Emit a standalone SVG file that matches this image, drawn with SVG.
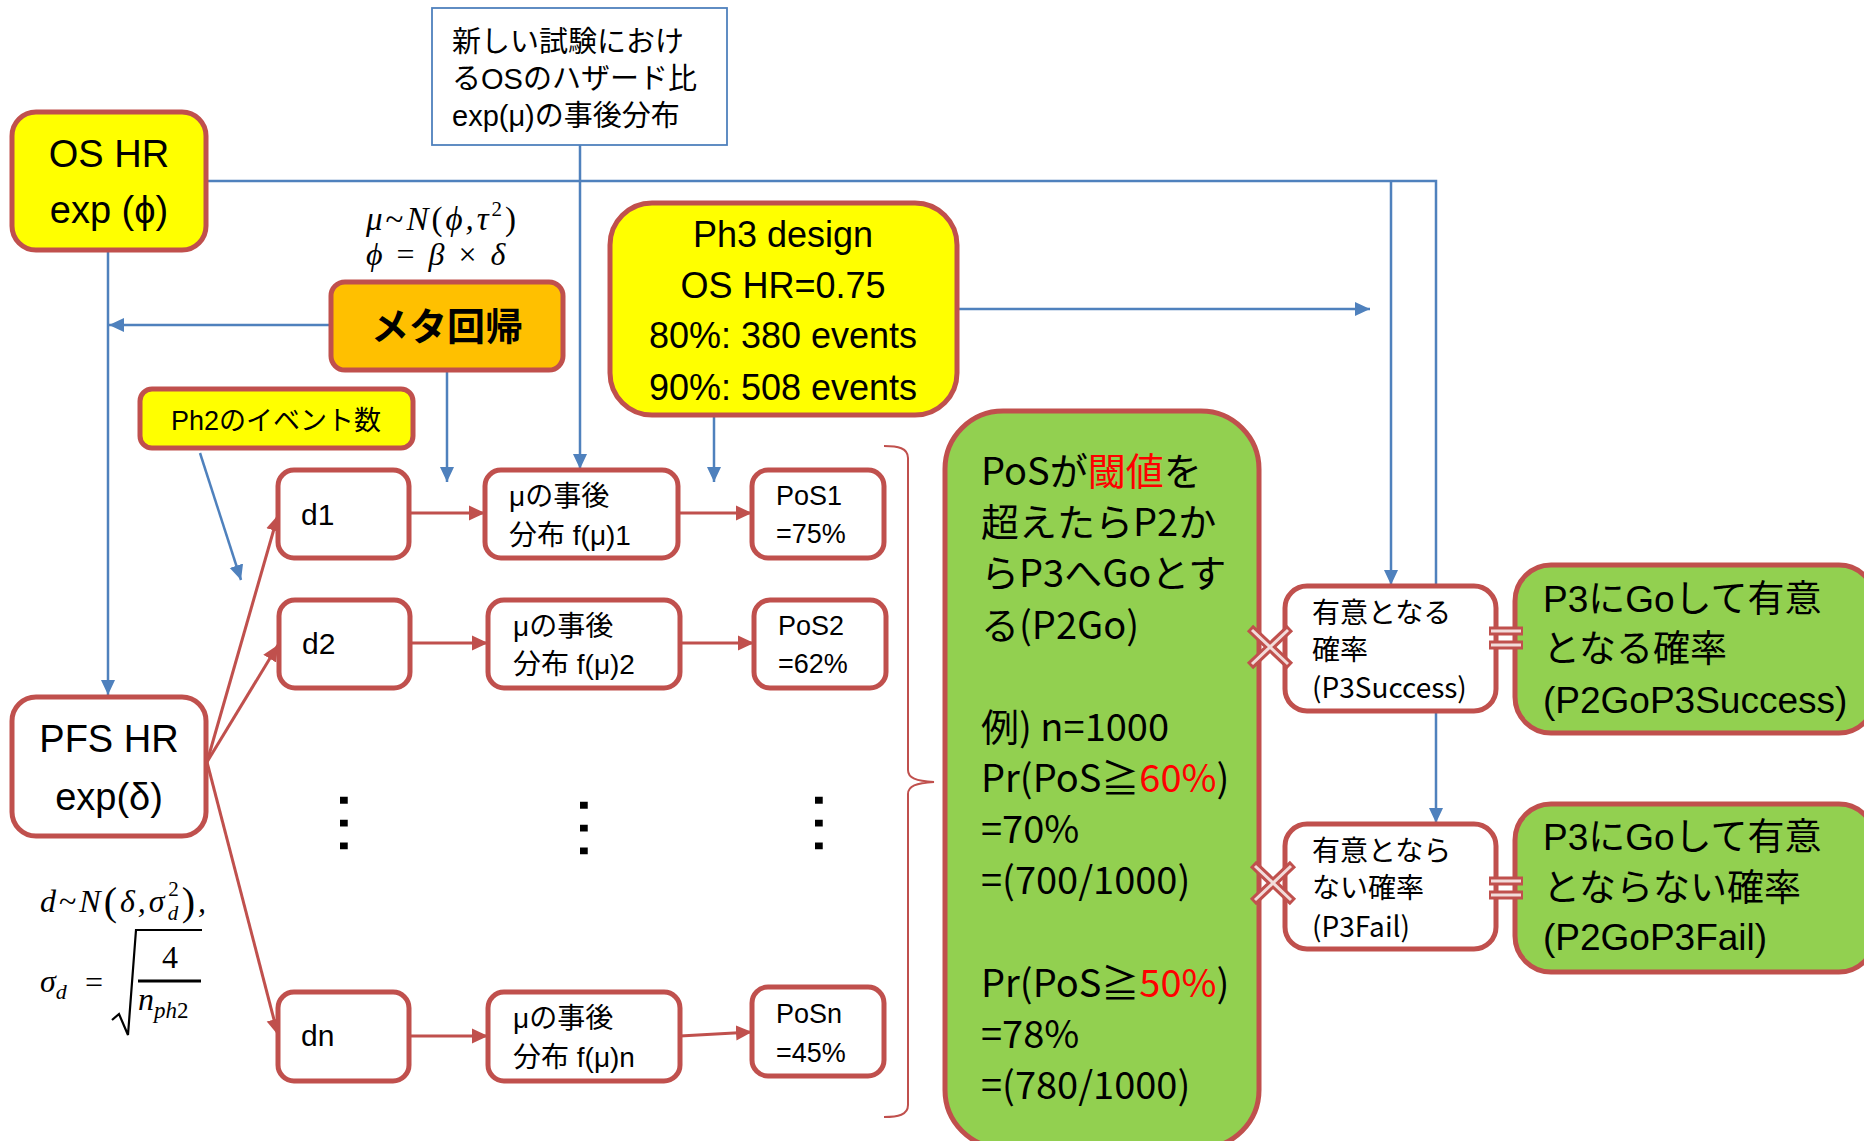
<svg xmlns="http://www.w3.org/2000/svg" width="1864" height="1141" viewBox="0 0 1864 1141">
<defs>
<style>
.bx{stroke:#C0504D;stroke-width:5}
.y{fill:#FFFF00}.o{fill:#FFC000}.g{fill:#92D050}.w{fill:#FFFFFF}
.t{font-family:"Liberation Sans","Noto Sans CJK JP",sans-serif;fill:#000}
.m{font-family:"Noto Sans CJK JP",sans-serif;fill:#000}
.math{font-family:"Liberation Serif",serif;font-style:italic;fill:#000}
.up{font-family:"Liberation Serif",serif;font-style:normal;fill:#000}
.blue{stroke:#4F81BD;stroke-width:2.5;fill:none}
.red{stroke:#C0504D;stroke-width:3;fill:none}
.rd{fill:#FF0000}
.jr{stroke:#C0504D;stroke-width:9;fill:none}
.jl{stroke:#F2DCDB;stroke-width:3;fill:none}
</style>
<marker id="ab" markerUnits="userSpaceOnUse" markerWidth="16" markerHeight="16" viewBox="0 0 16 16" refX="15" refY="8" orient="auto"><path d="M0,1 L15,8 L0,15 z" fill="#4F81BD"/></marker>
<marker id="ar" markerUnits="userSpaceOnUse" markerWidth="17" markerHeight="17" viewBox="0 0 17 17" refX="16" refY="8.5" orient="auto"><path d="M0,1 L16,8.5 L0,16 z" fill="#C0504D"/></marker>
</defs>
<rect width="1864" height="1141" fill="#FFFFFF"/>

<g id="connectors">
<path class="blue" d="M207,181 H1436 V823" marker-end="url(#ab)"/>
<path class="blue" d="M1391,181 V585" marker-end="url(#ab)"/>
<path class="blue" d="M580,145 V469" marker-end="url(#ab)"/>
<path class="blue" d="M108,250 V695" marker-end="url(#ab)"/>
<path class="blue" d="M331,325 H109" marker-end="url(#ab)"/>
<path class="blue" d="M447,370 V482" marker-end="url(#ab)"/>
<path class="blue" d="M714,415 V482" marker-end="url(#ab)"/>
<path class="blue" d="M957,309 H1370" marker-end="url(#ab)"/>
<path class="blue" d="M200,453 L241,580" marker-end="url(#ab)"/>
<path class="red" d="M207,762 L278,515" marker-end="url(#ar)"/>
<path class="red" d="M207,762 L278,645" marker-end="url(#ar)"/>
<path class="red" d="M207,762 L278,1035" marker-end="url(#ar)"/>
<path class="red" d="M409,513 H485" marker-end="url(#ar)"/>
<path class="red" d="M678,513 H752" marker-end="url(#ar)"/>
<path class="red" d="M410,643 H488" marker-end="url(#ar)"/>
<path class="red" d="M680,643 H754" marker-end="url(#ar)"/>
<path class="red" d="M409,1036 H488" marker-end="url(#ar)"/>
<path class="red" d="M680,1036 L752,1032" marker-end="url(#ar)"/>
<path d="M884,446 C898,446 908,448 908,458 L908,770 C908,778 916,781 934,782 C916,783 908,786 908,794 L908,1105 C908,1115 898,1117 884,1117" stroke="#C0504D" stroke-width="2" fill="none"/>
</g>

<g id="os-hr"><rect class="bx y" x="12" y="112" width="194" height="138" rx="24"/>
<text class="t" x="109" y="167" font-size="38" text-anchor="middle">OS HR</text>
<text class="t" x="109" y="223" font-size="38" text-anchor="middle">exp (ϕ)</text></g>

<g id="posterior-note"><rect x="432" y="8" width="295" height="137" fill="#FFFFFF" stroke="#4F81BD" stroke-width="1.8"/>
<text class="t" font-size="29"><tspan x="452" y="52">新しい試験におけ</tspan><tspan x="452" y="89">るOSのハザード比</tspan><tspan x="452" y="126">exp(μ)の事後分布</tspan></text></g>

<g id="formula-mu"><text class="math" font-size="33" x="366" y="230" letter-spacing="3">μ<tspan font-style="normal">~</tspan>N<tspan font-style="normal">(</tspan>ϕ,τ<tspan font-size="21" font-style="normal" dy="-14">2</tspan><tspan font-style="normal" dy="14">)</tspan></text>
<text class="math" font-size="32" x="366" y="265" letter-spacing="3" xml:space="preserve">ϕ <tspan font-style="normal">=</tspan> β <tspan font-style="normal">×</tspan> δ</text></g>

<g id="meta"><rect class="bx o" x="331" y="282" width="232" height="88" rx="14"/>
<text class="m" x="447" y="340" font-size="38" font-weight="bold" text-anchor="middle">メタ回帰</text></g>

<g id="ph3"><rect class="bx y" x="610" y="203" width="347" height="212" rx="42"/>
<text class="t" font-size="36" text-anchor="middle"><tspan x="783" y="247">Ph3 design</tspan><tspan x="783" y="298">OS HR=0.75</tspan><tspan x="783" y="348">80%: 380 events</tspan><tspan x="783" y="400">90%: 508 events</tspan></text></g>

<g id="ph2"><rect class="bx y" x="140" y="389" width="273" height="59" rx="12"/>
<text class="t" x="276" y="430" font-size="27" text-anchor="middle">Ph2のイベント数</text></g>

<g id="pfs-hr"><rect class="bx w" x="12" y="697" width="194" height="139" rx="24"/>
<text class="t" x="109" y="752" font-size="38" text-anchor="middle">PFS HR</text>
<text class="t" x="109" y="810" font-size="38" text-anchor="middle">exp(δ)</text></g>

<g id="formula-d"><text class="math" font-size="32" x="40" y="912" letter-spacing="3">d<tspan font-style="normal">~</tspan>N<tspan font-style="normal" font-size="40" dy="3">(</tspan><tspan dy="-3">δ,σ</tspan><tspan font-size="21" dy="8">d</tspan><tspan font-size="21" font-style="normal" dx="-13" dy="-24">2</tspan><tspan font-style="normal" font-size="40" dy="19">)</tspan><tspan dy="-3">,</tspan></text>
<text class="math" font-size="32" x="40" y="992">σ<tspan font-size="22" dy="7">d</tspan></text>
<text class="up" font-size="32" x="85" y="993">=</text>
<path d="M112,1020 L119,1014 L128,1035 L136,930 L202,930" stroke="#000" stroke-width="2.2" fill="none"/>
<line x1="138" y1="981" x2="201" y2="981" stroke="#000" stroke-width="3"/>
<text class="up" font-size="32" x="170" y="968" text-anchor="middle">4</text>
<text class="math" font-size="32" x="138" y="1010">n<tspan font-size="23" dy="8">ph</tspan><tspan font-size="23" font-style="normal">2</tspan></text></g>

<g id="d1"><rect class="bx w" x="278" y="470" width="131" height="88" rx="16"/><text class="t" x="301" y="525" font-size="30">d1</text></g>
<g id="d2"><rect class="bx w" x="279" y="600" width="131" height="88" rx="16"/><text class="t" x="302" y="654" font-size="30">d2</text></g>
<g id="dn"><rect class="bx w" x="278" y="992" width="131" height="89" rx="16"/><text class="t" x="301" y="1046" font-size="30">dn</text></g>

<g id="mu1"><rect class="bx w" x="485" y="470" width="193" height="88" rx="16"/><text class="t" font-size="28"><tspan x="509" y="506">μの事後</tspan><tspan x="509" y="545">分布 f(μ)1</tspan></text></g>
<g id="mu2"><rect class="bx w" x="488" y="600" width="192" height="88" rx="16"/><text class="t" font-size="28"><tspan x="513" y="636">μの事後</tspan><tspan x="513" y="674">分布 f(μ)2</tspan></text></g>
<g id="mun"><rect class="bx w" x="488" y="992" width="192" height="89" rx="16"/><text class="t" font-size="28"><tspan x="513" y="1028">μの事後</tspan><tspan x="513" y="1067">分布 f(μ)n</tspan></text></g>

<g id="pos1"><rect class="bx w" x="752" y="470" width="132" height="88" rx="16"/><text class="t" font-size="27"><tspan x="776" y="505">PoS1</tspan><tspan x="776" y="543">=75%</tspan></text></g>
<g id="pos2"><rect class="bx w" x="754" y="600" width="132" height="88" rx="16"/><text class="t" font-size="27"><tspan x="778" y="635">PoS2</tspan><tspan x="778" y="673">=62%</tspan></text></g>
<g id="posn"><rect class="bx w" x="752" y="987" width="132" height="89" rx="16"/><text class="t" font-size="27"><tspan x="776" y="1023">PoSn</tspan><tspan x="776" y="1062">=45%</tspan></text></g>

<g id="ellipses" class="t" font-size="72" text-anchor="middle">
<text x="344" y="827" transform="rotate(90 344 823)">…</text>
<text x="584" y="832" transform="rotate(90 584 828)">…</text>
<text x="819" y="827" transform="rotate(90 819 823)">…</text>
</g>

<g id="p2go"><rect class="bx g" x="945" y="411" width="314" height="737" rx="58"/>
<text class="m" font-size="38">
<tspan x="981" y="485">PoSが<tspan class="rd">閾値</tspan>を</tspan>
<tspan x="981" y="536">超えたらP2か</tspan>
<tspan x="981" y="587">らP3へGoとす</tspan>
<tspan x="981" y="639">る(P2Go)</tspan>
<tspan x="981" y="741">例) n=1000</tspan>
<tspan x="981" y="792">Pr(PoS≧<tspan class="rd">60%</tspan>)</tspan>
<tspan x="981" y="843">=70%</tspan>
<tspan x="981" y="894">=(700/1000)</tspan>
<tspan x="981" y="997">Pr(PoS≧<tspan class="rd">50%</tspan>)</tspan>
<tspan x="981" y="1048">=78%</tspan>
<tspan x="981" y="1099">=(780/1000)</tspan>
</text></g>

<g id="p3success"><rect class="bx w" x="1285" y="586" width="211" height="125" rx="22"/>
<text class="m" font-size="28"><tspan x="1312" y="623">有意となる</tspan><tspan x="1312" y="660">確率</tspan><tspan x="1312" y="698">(P3Success)</tspan></text></g>

<g id="p3fail"><rect class="bx w" x="1285" y="824" width="211" height="125" rx="22"/>
<text class="m" font-size="28"><tspan x="1312" y="861">有意となら</tspan><tspan x="1312" y="898">ない確率</tspan><tspan x="1312" y="937">(P3Fail)</tspan></text></g>

<g id="p2gop3success"><rect class="bx g" x="1515" y="565" width="360" height="168" rx="36"/>
<text class="t" font-size="37"><tspan x="1543" y="612">P3にGoして有意</tspan><tspan x="1543" y="662">となる確率</tspan><tspan x="1543" y="713">(P2GoP3Success)</tspan></text></g>

<g id="p2gop3fail"><rect class="bx g" x="1515" y="804" width="360" height="168" rx="36"/>
<text class="t" font-size="37"><tspan x="1543" y="850">P3にGoして有意</tspan><tspan x="1543" y="901">とならない確率</tspan><tspan x="1543" y="950">(P2GoP3Fail)</tspan></text></g>

<g id="joins">
<path class="jr" d="M1250,628 L1290,666 M1250,666 L1290,628 M1253,864 L1293,902 M1253,902 L1293,864 M1489,631 H1523 M1489,645 H1523 M1489,881 H1523 M1489,895 H1523"/>
<path class="jl" d="M1252,630 L1288,664 M1252,664 L1288,630 M1255,866 L1291,900 M1255,900 L1291,866 M1491,631 H1521 M1491,645 H1521 M1491,881 H1521 M1491,895 H1521"/>
</g>
</svg>
